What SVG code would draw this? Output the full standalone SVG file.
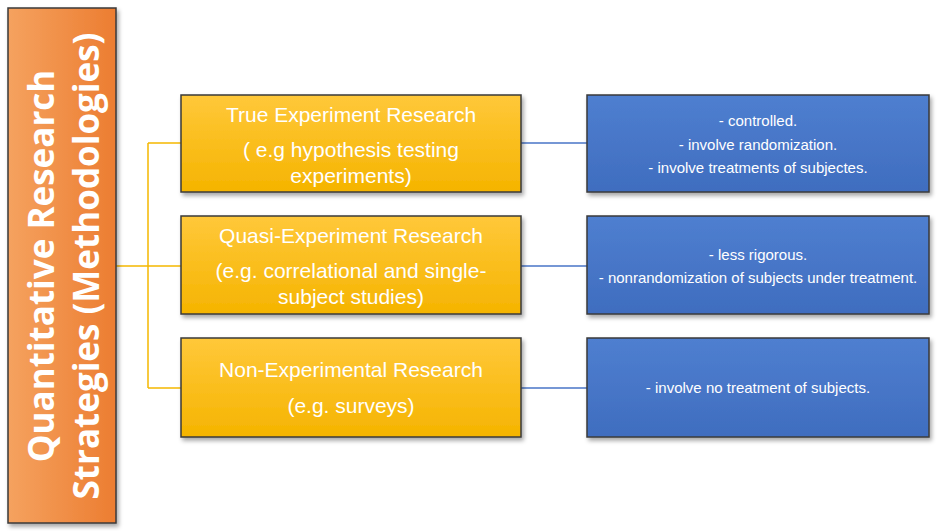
<svg xmlns="http://www.w3.org/2000/svg" width="942" height="531" viewBox="0 0 942 531">
<defs>
<linearGradient id="og" x1="0" y1="0" x2="1" y2="0"><stop offset="0" stop-color="#f5a25f"/><stop offset="1" stop-color="#ec7d31"/></linearGradient>
<linearGradient id="yg" x1="0" y1="0" x2="0" y2="1"><stop offset="0" stop-color="#ffc83a"/><stop offset="1" stop-color="#f5b400"/></linearGradient>
<linearGradient id="bg" x1="0" y1="0" x2="0" y2="1"><stop offset="0" stop-color="#4f7fd0"/><stop offset="1" stop-color="#3f6dbf"/></linearGradient>
<filter id="sh" x="-5%" y="-5%" width="115%" height="120%"><feDropShadow dx="2" dy="3" stdDeviation="2" flood-color="#000" flood-opacity="0.35"/></filter>
</defs>
<style>
.box{stroke:#3a3a3a;stroke-width:1.5;filter:url(#sh)}
.yt{font-family:"Liberation Sans",Arial,sans-serif;font-size:21px;fill:#fff;text-anchor:middle}
.bt{font-family:"Liberation Sans",Arial,sans-serif;font-size:15px;fill:#fff;text-anchor:middle}
.ot{font-family:"Open Sans","Liberation Sans",sans-serif;font-size:35px;font-weight:bold;fill:#fff;text-anchor:middle}
.yl{stroke:#f5b800;stroke-width:1.5;fill:none}
.bl{stroke:#4a76c8;stroke-width:1.5;fill:none}
</style>
<rect width="942" height="531" fill="#fff"/>
<g id="connectors">
<path class="yl" d="M116 266H148M148 143V388M148 143H181M148 266H181M148 388H181"/>
<path class="bl" d="M521 143H587M521 266H587M521 388H587"/>
</g>
<g id="main"><rect class="box" x="8" y="8" width="108" height="515" fill="url(#og)"/>
<text class="ot" transform="translate(54,266) rotate(-90)">Quantitative Research</text>
<text class="ot" transform="translate(99,266) rotate(-90)">Strategies (Methodologies)</text></g>
<g id="y1"><rect class="box" x="181" y="95" width="340" height="97" fill="url(#yg)"/>
<text class="yt" x="351" y="122">True Experiment Research</text>
<text class="yt" x="351" y="157">( e.g hypothesis testing</text>
<text class="yt" x="351" y="183">experiments)</text></g>
<g id="y2"><rect class="box" x="181" y="216" width="340" height="98" fill="url(#yg)"/>
<text class="yt" x="351" y="243">Quasi-Experiment Research</text>
<text class="yt" x="351" y="278">(e.g. correlational and single-</text>
<text class="yt" x="351" y="304">subject studies)</text></g>
<g id="y3"><rect class="box" x="181" y="338" width="340" height="99" fill="url(#yg)"/>
<text class="yt" x="351" y="377">Non-Experimental Research</text>
<text class="yt" x="351" y="413">(e.g. surveys)</text></g>
<g id="b1"><rect class="box" x="587" y="95" width="342" height="97" fill="url(#bg)"/>
<text class="bt" x="758" y="126">- controlled.</text>
<text class="bt" x="758" y="150">- involve randomization.</text>
<text class="bt" x="758" y="173">- involve treatments of subjectes.</text></g>
<g id="b2"><rect class="box" x="587" y="216" width="342" height="98" fill="url(#bg)"/>
<text class="bt" x="758" y="260">- less rigorous.</text>
<text class="bt" x="758" y="283">- nonrandomization of  subjects under treatment.</text></g>
<g id="b3"><rect class="box" x="587" y="338" width="342" height="99" fill="url(#bg)"/>
<text class="bt" x="758" y="393">- involve no treatment of subjects.</text></g>
</svg>
